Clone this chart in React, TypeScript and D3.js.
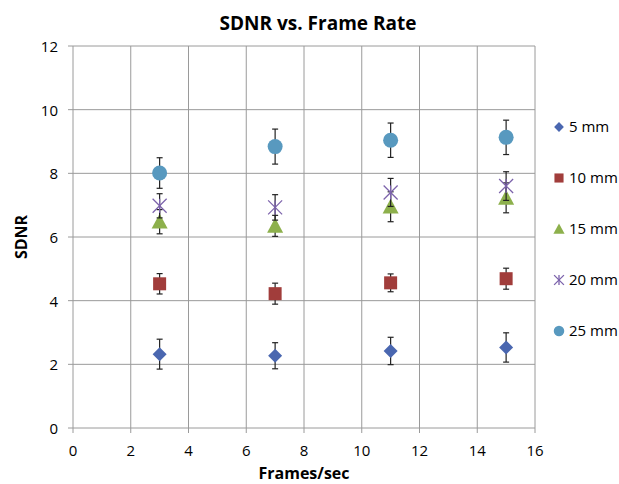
import React from 'react';
import * as d3 from 'd3';

const frameRates = [3, 7, 11, 15];
const seriesNames = ['5 mm', '10 mm', '15 mm', '20 mm', '25 mm'];
const sdnr5 = [2.32, 2.27, 2.42, 2.53];
const err5 = [0.47, 0.41, 0.43, 0.46];
const sdnr10 = [4.53, 4.22, 4.56, 4.69];
const err10 = [0.32, 0.33, 0.28, 0.33];
const sdnr15 = [6.48, 6.35, 6.95, 7.23];
const err15 = [0.38, 0.33, 0.47, 0.47];
const sdnr20 = [6.98, 6.93, 7.4, 7.6];
const err20 = [0.38, 0.4, 0.44, 0.45];
const sdnr25 = [8.01, 8.84, 9.04, 9.13];
const err25 = [0.48, 0.55, 0.54, 0.54];
const xTicks = [0, 2, 4, 6, 8, 10, 12, 14, 16];
const yTicks = [0, 2, 4, 6, 8, 10, 12];

const series = [
  { name: seriesNames[0], values: sdnr5, errs: err5, shape: 'diamond', color: '#4a67b0' },
  { name: seriesNames[1], values: sdnr10, errs: err10, shape: 'square', color: '#a13d3b' },
  { name: seriesNames[2], values: sdnr15, errs: err15, shape: 'triangle', color: '#8db04c' },
  { name: seriesNames[3], values: sdnr20, errs: err20, shape: 'star', color: '#7b62ab' },
  { name: seriesNames[4], values: sdnr25, errs: err25, shape: 'circle', color: '#5899bf' },
];

const font = '"Open Sans", Lato, sans-serif';

function Marker({ shape, color, cx, cy, scale = 1 }: any) {
  if (shape === 'diamond') {
    const r = 7 * scale;
    return <path d={`M${cx},${cy - r}L${cx + r},${cy}L${cx},${cy + r}L${cx - r},${cy}Z`} fill={color} />;
  }
  if (shape === 'square') {
    const s = 13 * scale;
    return <rect x={cx - s / 2} y={cy - s / 2} width={s} height={s} fill={color} />;
  }
  if (shape === 'triangle') {
    const r = 8 * scale;
    return <path d={`M${cx},${cy - r}L${cx + r},${cy + r * 0.85}L${cx - r},${cy + r * 0.85}Z`} fill={color} />;
  }
  if (shape === 'star') {
    const r = 7 * scale;
    return (
      <g stroke={color} strokeWidth={1.3}>
        <line x1={cx - r} y1={cy - r} x2={cx + r} y2={cy + r} />
        <line x1={cx - r} y1={cy + r} x2={cx + r} y2={cy - r} />
        <line x1={cx} y1={cy - r} x2={cx} y2={cy + r} />
      </g>
    );
  }
  return <circle cx={cx} cy={cy} r={7.5 * scale} fill={color} />;
}

export default function App() {
  const width = 619;
  const height = 484;
  const margin = { top: 46, left: 73, right: 84, bottom: 56 };
  const x = d3.scaleLinear().domain([0, 16]).range([margin.left, width - margin.right]);
  const y = d3.scaleLinear().domain([0, 12]).range([height - margin.bottom, margin.top]);
  const grid = '#9a9a9a';

  return (
    <svg width={width} height={height} style={{ position: 'absolute', left: 0, top: 0, background: '#fff' }}>
      <text x={318} y={30} textAnchor="middle" fontFamily={font} fontWeight="bold" fontSize={19}>
        SDNR vs. Frame Rate
      </text>
      {xTicks.map((t) => (
        <g key={'x' + t}>
          <line x1={x(t)} x2={x(t)} y1={y(12)} y2={y(0) + 5} stroke={grid} />
          <text x={x(t)} y={y(0) + 28} textAnchor="middle" fontFamily={font} fontSize={15}>
            {t}
          </text>
        </g>
      ))}
      {yTicks.map((t) => (
        <g key={'y' + t}>
          <line x1={x(0) - 5} x2={x(16)} y1={y(t)} y2={y(t)} stroke={grid} />
          <text x={x(0) - 15} y={y(t) + 6} textAnchor="end" fontFamily={font} fontSize={15}>
            {t}
          </text>
        </g>
      ))}
      <text
        transform={`translate(27,${y(6)}) rotate(-90)`}
        textAnchor="middle"
        fontFamily={font}
        fontWeight="bold"
        fontSize={16}
      >
        SDNR
      </text>
      <text x={304} y={479} textAnchor="middle" fontFamily={font} fontWeight="bold" fontSize={16}>
        Frames/sec
      </text>
      {series.map((s) => (
        <g key={s.name}>
          {s.values.map((v, i) => (
            <g key={i}>
              <g stroke="#222" strokeWidth={1.2}>
                <line x1={x(frameRates[i])} x2={x(frameRates[i])} y1={y(v + s.errs[i])} y2={y(v - s.errs[i])} />
                <line x1={x(frameRates[i]) - 3} x2={x(frameRates[i]) + 3} y1={y(v + s.errs[i])} y2={y(v + s.errs[i])} />
                <line x1={x(frameRates[i]) - 3} x2={x(frameRates[i]) + 3} y1={y(v - s.errs[i])} y2={y(v - s.errs[i])} />
              </g>
              <Marker shape={s.shape} color={s.color} cx={x(frameRates[i])} cy={y(v)} />
            </g>
          ))}
        </g>
      ))}
      {series.map((s, i) => (
        <g key={'leg' + s.name}>
          <Marker shape={s.shape} color={s.color} cx={559} cy={127 + i * 51} scale={0.7} />
          <text x={569} y={132 + i * 51} fontFamily={font} fontSize={15}>
            {s.name}
          </text>
        </g>
      ))}
    </svg>
  );
}
